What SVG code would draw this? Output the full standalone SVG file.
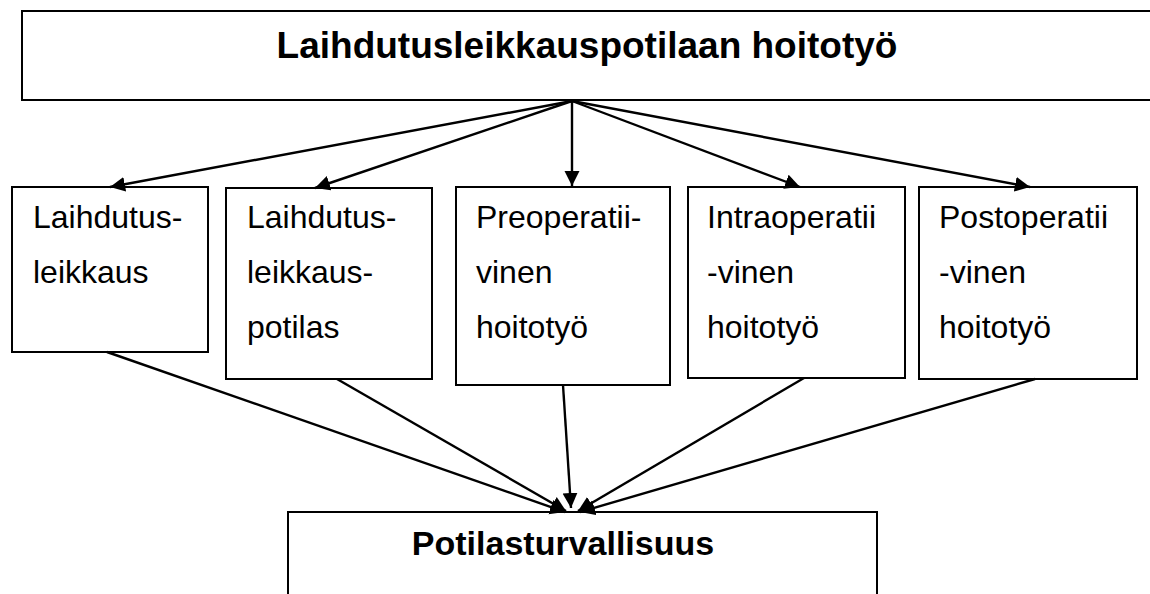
<svg xmlns="http://www.w3.org/2000/svg" width="1150" height="594" viewBox="0 0 1150 594">
<style>
.box{fill:#fff;stroke:#000;stroke-width:2}
.t{font-family:"Liberation Sans",Arial,sans-serif;font-size:32px;fill:#000}
.b{font-family:"Liberation Sans",Arial,sans-serif;font-weight:bold;fill:#000}
.c{stroke:#000;stroke-width:2.4;fill:none;marker-end:url(#ah)}
</style>
<defs>
<marker id="ah" markerUnits="userSpaceOnUse" markerWidth="18" markerHeight="18" refX="15" refY="7.5" orient="auto">
<path d="M0,0 L15,7.5 L0,15 z" fill="#000"/>
</marker>
</defs>
<rect width="1150" height="594" fill="#fff"/>
<g id="top">
<rect class="box" x="22" y="11" width="1140" height="89"/>
<text class="b" x="587" y="58" font-size="37" text-anchor="middle">Laihdutusleikkauspotilaan hoitotyö</text>
</g>
<g id="n1">
<rect class="box" x="12" y="187" width="196" height="165"/>
<text class="t" x="33" y="228">Laihdutus-</text>
<text class="t" x="33" y="283">leikkaus</text>
</g>
<g id="n2">
<rect class="box" x="226" y="188" width="206" height="191"/>
<text class="t" x="247" y="228">Laihdutus-</text>
<text class="t" x="247" y="283">leikkaus-</text>
<text class="t" x="247" y="338">potilas</text>
</g>
<g id="n3">
<rect class="box" x="456" y="187" width="214" height="198"/>
<text class="t" x="476" y="228">Preoperatii-</text>
<text class="t" x="476" y="283">vinen</text>
<text class="t" x="476" y="338">hoitotyö</text>
</g>
<g id="n4">
<rect class="box" x="688" y="187" width="217" height="191"/>
<text class="t" x="707" y="228">Intraoperatii</text>
<text class="t" x="707" y="283">-vinen</text>
<text class="t" x="707" y="338">hoitotyö</text>
</g>
<g id="n5">
<rect class="box" x="919" y="187" width="218" height="192"/>
<text class="t" x="939" y="228">Postoperatii</text>
<text class="t" x="939" y="283">-vinen</text>
<text class="t" x="939" y="338">hoitotyö</text>
</g>
<g id="bottom">
<rect class="box" x="288" y="512" width="589" height="110"/>
<text class="b" x="563" y="555" font-size="34" text-anchor="middle">Potilasturvallisuus</text>
</g>
<g id="connectors">
<line class="c" x1="572" y1="101" x2="110" y2="187"/>
<line class="c" x1="572" y1="101" x2="315" y2="188"/>
<line class="c" x1="572" y1="101" x2="572" y2="186"/>
<line class="c" x1="572" y1="101" x2="800" y2="187"/>
<line class="c" x1="572" y1="101" x2="1030" y2="187"/>
<line class="c" x1="107" y1="352" x2="565" y2="512"/>
<line class="c" x1="337" y1="379" x2="566" y2="511"/>
<line class="c" x1="563" y1="385" x2="571" y2="508"/>
<line class="c" x1="804" y1="378" x2="578" y2="511"/>
<line class="c" x1="1035" y1="379" x2="580" y2="512"/>
</g>
</svg>
